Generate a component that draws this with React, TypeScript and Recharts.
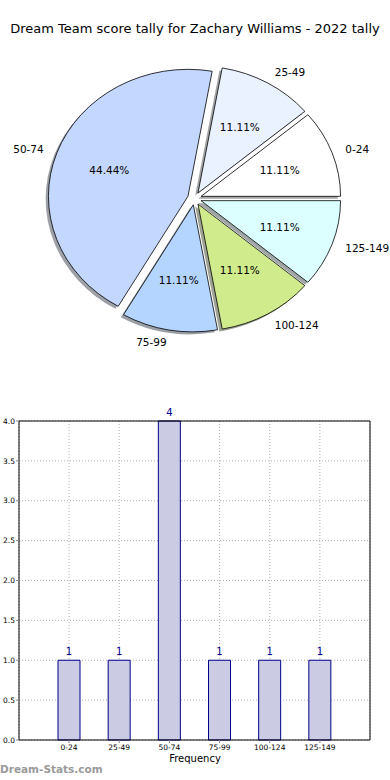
import { Bar, BarChart, CartesianGrid, LabelList, Pie, PieChart, XAxis, YAxis } from 'recharts';

const ranges = ['0-24', '25-49', '50-74', '75-99', '100-124', '125-149'];
const counts = [1, 1, 4, 1, 1, 1];
const sliceColors = ['#ffffff', '#eaf1ff', '#c4d8ff', '#b4d5ff', '#d0eb8c', '#dcffff'];
const yTicks = [0, 0.5, 1, 1.5, 2, 2.5, 3, 3.5, 4];

const data = ranges.map((range, i) => ({ range, count: counts[i], color: sliceColors[i] }));

const FONT = '"DejaVu Sans", Verdana, sans-serif';
const RAD = Math.PI / 180;
const Y_SCALE = 127 / 139.5; // the pie is squashed a bit, like the original
const EXPLODE = 0.05;

function darken(hex: string) {
  const n = parseInt(hex.slice(1), 16);
  const r = Math.round(((n >> 16) & 255) * 0.3);
  const g = Math.round(((n >> 8) & 255) * 0.3);
  const b = Math.round((n & 255) * 0.3);
  return `rgb(${r},${g},${b})`;
}

function wedgePath(p: any, shiftX = 0, shiftY = 0) {
  const rx = p.outerRadius;
  const ry = p.outerRadius * Y_SCALE;
  const mid = ((p.startAngle + p.endAngle) / 2) * RAD;
  const ox = p.cx + EXPLODE * rx * Math.cos(mid) + shiftX * rx;
  const oy = p.cy - EXPLODE * ry * Math.sin(mid) + shiftY * ry;
  const a1 = p.startAngle * RAD;
  const a2 = p.endAngle * RAD;
  const x1 = ox + rx * Math.cos(a1);
  const y1 = oy - ry * Math.sin(a1);
  const x2 = ox + rx * Math.cos(a2);
  const y2 = oy - ry * Math.sin(a2);
  const large = Math.abs(p.endAngle - p.startAngle) > 180 ? 1 : 0;
  return `M${ox},${oy} L${x1},${y1} A${rx},${ry} 0 ${large} 0 ${x2},${y2} Z`;
}

const wedge = (p: any) => (
  <path d={wedgePath(p)} fill={p.payload?.color ?? p.fill} stroke="#000" strokeWidth={0.8} />
);

const shadow = (p: any) => (
  <path d={wedgePath(p, -0.02, 0.02)} fill={darken(p.payload?.color ?? p.fill ?? '#ffffff')} fillOpacity={0.5} stroke="none" />
);

const sliceLabel = (p: any) => {
  const rx = p.outerRadius;
  const ry = p.outerRadius * Y_SCALE;
  const mid = p.midAngle * RAD;
  const c = Math.cos(mid);
  const s = Math.sin(mid);
  const nx = p.cx + (EXPLODE + 1.1) * rx * c;
  const ny = p.cy - (EXPLODE + 1.1) * ry * s;
  const px = p.cx + (EXPLODE + 0.6) * rx * c;
  const py = p.cy - (EXPLODE + 0.6) * ry * s;
  return (
    <g>
      <text x={nx} y={ny} textAnchor={c > 0 ? 'start' : 'end'} dominantBaseline="central" fontSize={10.5} fontFamily={FONT} fill="#000">
        {p.name}
      </text>
      <text x={px} y={py} textAnchor="middle" dominantBaseline="central" fontSize={10.5} fontFamily={FONT} fill="#000">
        {`${(p.percent * 100).toFixed(2)}%`}
      </text>
    </g>
  );
};

export default function App() {
  return (
    <div style={{ position: 'absolute', left: 0, top: 0, width: 390, height: 780, background: '#fff', fontFamily: FONT }}>
      <div style={{ position: 'absolute', top: 21, left: 0, width: 390, textAlign: 'center', fontSize: 13, color: '#000' }}>
        Dream Team score tally for Zachary Williams - 2022 tally
      </div>
      <div style={{ position: 'absolute', top: 0, left: 0 }}>
        <PieChart width={390} height={380} margin={{ top: 0, right: 0, bottom: 0, left: 0 }}>
          <Pie
            data={data}
            dataKey="count"
            nameKey="range"
            cx={194.5}
            cy={198.5}
            outerRadius={139.5}
            startAngle={0}
            endAngle={360}
            stroke="none"
            shape={shadow}
            inactiveShape={shadow}
            activeShape={shadow}
            isAnimationActive={false}
          />
          <Pie
            data={data}
            dataKey="count"
            nameKey="range"
            cx={194.5}
            cy={198.5}
            outerRadius={139.5}
            startAngle={0}
            endAngle={360}
            stroke="none"
            shape={wedge}
            inactiveShape={wedge}
            activeShape={wedge}
            label={sliceLabel}
            labelLine={false}
            isAnimationActive={false}
          />
        </PieChart>
      </div>
      <div style={{ position: 'absolute', top: 380, left: 0 }}>
        <BarChart width={390} height={400} data={data} margin={{ top: 40, right: 19, bottom: 20, left: 0 }}>
          <CartesianGrid stroke="#b0b0b0" strokeDasharray="1 2" />
          <XAxis
            dataKey="range"
            padding={{ left: 25, right: 25 }}
            height={20}
            tickSize={3}
            tickMargin={2}
            tick={{ fontSize: 7.5, fill: '#000', fontFamily: FONT }}
            axisLine={{ stroke: '#000' }}
            tickLine={{ stroke: '#888' }}
            interval={0}
          />
          <XAxis xAxisId="top" dataKey="range" orientation="top" height={1} tick={false} tickLine={false} axisLine={{ stroke: '#000' }} padding={{ left: 25, right: 25 }} />
          <YAxis
            domain={[0, 4]}
            ticks={yTicks}
            width={19}
            tickSize={3}
            tickMargin={1}
            tickFormatter={(v: number) => v.toFixed(1)}
            tick={{ fontSize: 7.5, fill: '#000', fontFamily: FONT }}
            axisLine={{ stroke: '#000' }}
            tickLine={{ stroke: '#888' }}
            interval={0}
          />
          <YAxis yAxisId="right" orientation="right" domain={[0, 4]} width={1} tick={false} tickLine={false} axisLine={{ stroke: '#000' }} />
          <Bar dataKey="count" barSize={22} fill="#cbcbe3" stroke="#00008b" strokeWidth={1} isAnimationActive={false}>
            <LabelList dataKey="count" position="top" offset={5} fill="#00008b" fontSize={10} fontFamily={FONT} />
          </Bar>
        </BarChart>
      </div>
      <div style={{ position: 'absolute', top: 753, left: 0, width: 390, textAlign: 'center', fontSize: 10, color: '#000' }}>Frequency</div>
      <div style={{ position: 'absolute', top: 763, left: 0, fontSize: 10.5, fontWeight: 'bold', color: '#9a9a9a' }}>Dream-Stats.com</div>
    </div>
  );
}
